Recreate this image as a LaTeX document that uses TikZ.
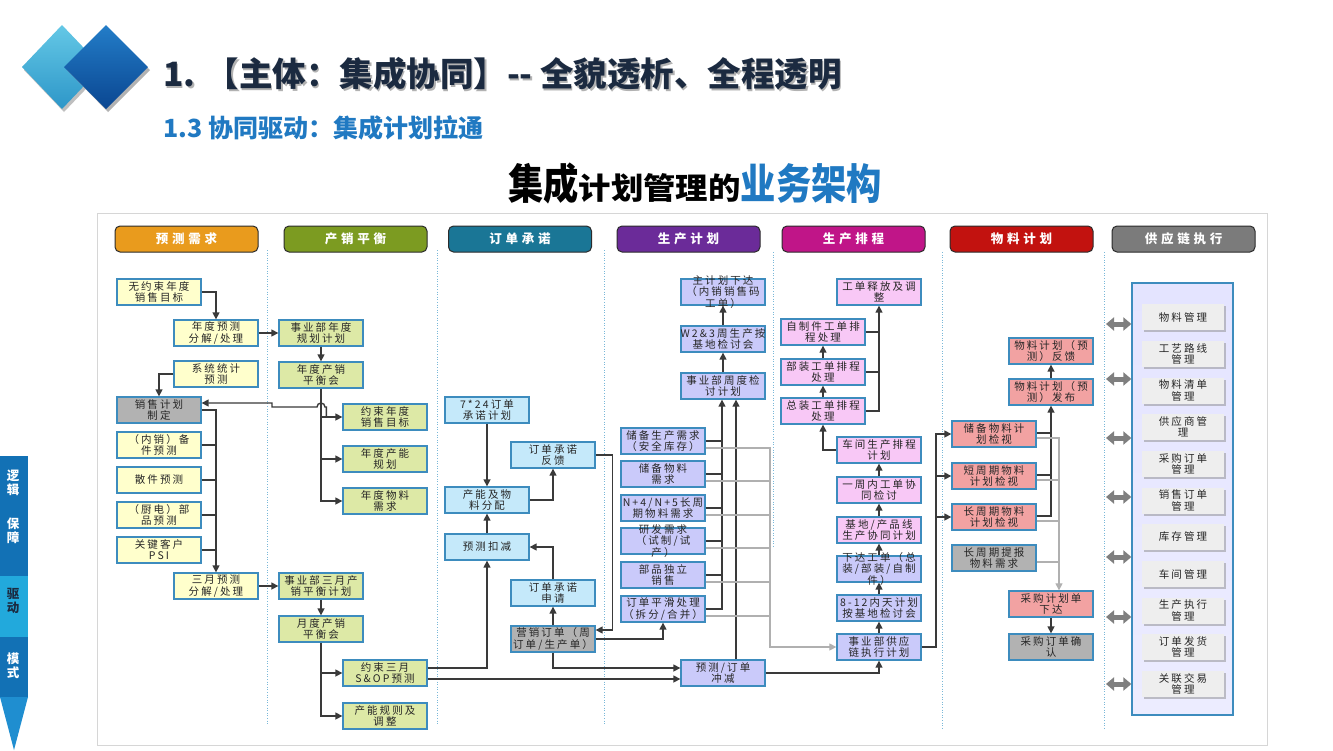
\documentclass[tikz,border=0pt]{standalone}
\usepackage{fontspec}
\newfontfamily\cjk{Noto Sans CJK SC}
\newfontfamily\cjkw[LetterSpace=20]{Noto Sans CJK SC}
\newfontfamily\cjkh[LetterSpace=30]{Noto Sans CJK SC}
\usetikzlibrary{arrows.meta,shadows}

\definecolor{boxedge}{HTML}{3D8CBE}
\definecolor{boxtext}{HTML}{262626}
\definecolor{fillY}{HTML}{FFFFCC}
\definecolor{fillG}{HTML}{DDE9A6}
\definecolor{fillB}{HTML}{C5E9FA}
\definecolor{fillL}{HTML}{CACAFA}
\definecolor{fillP}{HTML}{F8C8F6}
\definecolor{fillR}{HTML}{F2A2A2}
\definecolor{fillGr}{HTML}{B2B2B2}
\definecolor{linec}{HTML}{3A3A3A}
\definecolor{grayline}{HTML}{B0B0B0}
\definecolor{divc}{HTML}{7AB8D8}
\definecolor{framec}{HTML}{D6D6D6}
\definecolor{hdredge}{HTML}{2B2B2B}
\definecolor{hOr}{HTML}{E99B1D}
\definecolor{hGn}{HTML}{7C9B21}
\definecolor{hTl}{HTML}{1A7696}
\definecolor{hPu}{HTML}{6B2B99}
\definecolor{hMg}{HTML}{C01588}
\definecolor{hRd}{HTML}{C2120F}
\definecolor{hGy}{HTML}{7B7B7B}
\definecolor{titlec}{HTML}{1B2A40}
\definecolor{subc}{HTML}{2079C2}
\definecolor{sideD}{HTML}{1271B5}
\definecolor{sideL}{HTML}{22A9DC}
\definecolor{sideT}{HTML}{1F8ED0}
\definecolor{itemfill}{HTML}{EEEEEE}
\definecolor{dblc}{HTML}{7F7F7F}

\tikzset{
  boxshape/.style={rectangle, draw=boxedge, line width=1.3pt, minimum width=84pt, minimum height=26pt, inner sep=0pt},
  boxtxt/.style={align=center, font=\cjkw\fontsize{10.5}{11.2}\selectfont, text=boxtext, inner sep=0pt},
  hdr/.style={draw=hdredge, line width=1pt, rounded corners=5pt, minimum width=143pt, minimum height=26pt, text=white, font=\cjkh\bfseries\fontsize{12.5}{14}\selectfont, inner sep=0pt},
  ln/.style={draw=linec, line width=1.4pt},
  ar/.style={ln, -{Triangle[length=7pt,width=7pt]}},
  gln/.style={draw=grayline, line width=1.2pt},
  gar/.style={gln, -{Triangle[length=7pt,width=7pt]}},
  divider/.style={draw=divc, line width=0.9pt, dash pattern=on 1pt off 1.6pt},
  sideitem/.style={fill=itemfill, minimum width=82pt, minimum height=26pt, inner sep=0pt, align=center, font=\cjkw\fontsize{10.5}{11.2}\selectfont, text=boxtext, drop shadow={shadow xshift=2pt, shadow yshift=-2pt, fill=black!45, opacity=0.5}},
  dbl/.style={draw=dblc, line width=5pt, {Triangle[length=8pt,width=13pt]}-{Triangle[length=8pt,width=13pt]}},
  sidetxt/.style={align=center, font=\cjk\bfseries\fontsize{12.5}{14}\selectfont, inner sep=0pt},
}

% planning box: shape node plus its label
\newcommand\planbox[5]{%
  \node[boxshape, fill=#4] (#1) at (#2,#3) {};
  \node[boxtxt] (#1t) at (#1) {#5};}

\begin{document}
\begin{tikzpicture}[x=1pt,y=-1pt]
\useasboundingbox (0,0) rectangle (1333,750);
\fill[white] (0,0) rectangle (1333,750);

% ---- title block ----
\fill[black!25] (24,70) -- (64,28) -- (104,70) -- (64,112) -- cycle;
\shade[top color={rgb,255:red,100;green,200;blue,230}, bottom color={rgb,255:red,45;green,150;blue,200}] (22,67) -- (62,25) -- (102,67) -- (62,109) -- cycle;
\fill[black!30] (67,70) -- (108,28) -- (150,70) -- (108,112) -- cycle;
\shade[top color={rgb,255:red,35;green,125;blue,200}, bottom color={rgb,255:red,10;green,70;blue,145}] (64,67) -- (106,25) -- (148,67) -- (106,109) -- cycle;

\node[anchor=west, text=black!30, font=\cjk\bfseries\fontsize{33.5}{35}\selectfont, inner sep=0pt] (titsh) at (164.5,75.5) {1. 【主体：集成协同】-- 全貌透析、全程透明};
\node[anchor=west, text=titlec, font=\cjk\bfseries\fontsize{33.5}{35}\selectfont, inner sep=0pt] (tit) at (163,74) {1. 【主体：集成协同】-- 全貌透析、全程透明};
\node[anchor=west, text=subc, font=\cjk\bfseries\fontsize{25}{27}\selectfont, inner sep=0pt] (sub) at (163,128) {1.3 协同驱动：集成计划拉通};

\node[anchor=west, inner sep=0pt, font=\cjk\bfseries] (head) at (508,183) {%
  {\fontsize{42}{44}\selectfont\scalebox{0.84}[1]{集成}}%
  {\fontsize{30}{32}\selectfont\scalebox{1.08}[1]{计划管理的}}%
  {\color{subc}\fontsize{42}{44}\selectfont\scalebox{0.84}[1]{业务架构}}};

% ---- side strip ----
\fill[sideD] (0,456) rectangle (28,576);
\fill[sideL] (0,576) rectangle (28,637);
\fill[sideD] (0,637) rectangle (28,697);
\fill[sideT] (0,697) -- (28,697) -- (14,750) -- cycle;
\node[sidetxt, text=white] (sa) at (13,483) {逻\\辑};
\node[sidetxt, text=white] (sb) at (13,531) {保\\障};
\node[sidetxt, text=titlec] (sc) at (13,601) {驱\\动};
\node[sidetxt, text=white] (sd) at (13,666) {模\\式};

% ---- frame and lane dividers ----
\draw[framec, line width=1pt] (97,213) rectangle (1267,745);
\draw[divider] (267,250) -- (267,725);
\draw[divider] (437,250) -- (437,725);
\draw[divider] (604,250) -- (604,725);
\draw[divider] (773,252) -- (773,548);
\draw[divider] (942,252) -- (942,728);
\draw[divider] (1104,252) -- (1104,728);

% ---- lane headers ----
\node[hdr, fill=hOr] (h1) at (186.5,239) {预测需求};
\node[hdr, fill=hGn] (h2) at (355.5,239) {产销平衡};
\node[hdr, fill=hTl] (h3) at (520,239) {订单承诺};
\node[hdr, fill=hPu] (h4) at (688.5,239) {生产计划};
\node[hdr, fill=hMg] (h5) at (853.5,239) {生产排程};
\node[hdr, fill=hRd] (h6) at (1021.5,239) {物料计划};
\node[hdr, fill=hGy] (h7) at (1183.5,239) {供应链执行};

% ---- lane 1: demand forecast ----
\planbox{c1a}{159}{292}{fillY}{无约束年度\\销售目标}
\planbox{c1b}{216}{333}{fillY}{年度预测\\分解/处理}
\planbox{c1c}{216}{374}{fillY}{系统统计\\预测}
\planbox{c1d}{159}{410}{fillGr}{销售计划\\制定}
\planbox{c1e}{159}{445}{fillY}{（内销）备\\件预测}
\planbox{c1f}{159}{480}{fillY}{散件预测}
\planbox{c1g}{159}{515}{fillY}{（厨电）部\\品预测}
\planbox{c1h}{159}{550}{fillY}{关键客户\\PSI}
\planbox{c1i}{216}{586}{fillY}{三月预测\\分解/处理}

% ---- lane 2: S&OP balance ----
\planbox{c2a}{321}{333}{fillG}{事业部年度\\规划计划}
\planbox{c2b}{321}{375}{fillG}{年度产销\\平衡会}
\planbox{c2c}{385}{417}{fillG}{约束年度\\销售目标}
\planbox{c2d}{385}{459}{fillG}{年度产能\\规划}
\planbox{c2e}{385}{501}{fillG}{年度物料\\需求}
\planbox{c2f}{321}{586}{fillG}{事业部三月产\\销平衡计划}
\planbox{c2g}{321}{629}{fillG}{月度产销\\平衡会}
\planbox{c2h}{385}{673}{fillG}{约束三月\\S\&OP预测}
\planbox{c2i}{385}{716}{fillG}{产能规则及\\调整}

% ---- lane 3: order promising ----
\planbox{c3a}{487}{410}{fillB}{7*24订单\\承诺计划}
\planbox{c3b}{553}{455}{fillB}{订单承诺\\反馈}
\planbox{c3c}{487}{500}{fillB}{产能及物\\料分配}
\planbox{c3d}{487}{547}{fillB}{预测扣减}
\planbox{c3e}{553}{593}{fillB}{订单承诺\\申请}
\planbox{c3f}{553}{639}{fillGr}{营销订单（周\\订单/生产单）}

% ---- lane 4: production planning ----
\planbox{c4a}{723}{292}{fillL}{主计划下达\\（内销销售码\\工单）}
\planbox{c4b}{723}{339}{fillL}{W2\&3周生产按\\基地检讨会}
\planbox{c4c}{723}{386}{fillL}{事业部周度检\\讨计划}
\planbox{c4d}{663}{441}{fillL}{储备生产需求\\（安全库存）}
\planbox{c4e}{663}{474}{fillL}{储备物料\\需求}
\planbox{c4f}{663}{508}{fillL}{N+4/N+5长周\\期物料需求}
\planbox{c4g}{663}{541}{fillL}{研发需求\\（试制/试\\产）}
\planbox{c4h}{663}{575}{fillL}{部品独立\\销售}
\planbox{c4i}{663}{609}{fillL}{订单平滑处理\\（拆分/合并）}
\planbox{c4j}{723}{673}{fillL}{预测/订单\\冲减}

% ---- lane 5: scheduling ----
\planbox{c5a}{879}{292}{fillP}{工单释放及调\\整}
\planbox{c5b}{823}{332}{fillP}{自制件工单排\\程处理}
\planbox{c5c}{823}{372}{fillP}{部装工单排程\\处理}
\planbox{c5d}{823}{411}{fillP}{总装工单排程\\处理}
\planbox{c5e}{879}{450}{fillP}{车间生产排程\\计划}
\planbox{c5f}{879}{490}{fillP}{一周内工单协\\同检讨}
\planbox{c5g}{879}{530}{fillP}{基地/产品线\\生产协同计划}
\planbox{c5h}{879}{569}{fillL}{下达工单（总\\装/部装/自制\\件）}
\planbox{c5i}{879}{608}{fillL}{8-12内天计划\\按基地检讨会}
\planbox{c5j}{879}{647}{fillL}{事业部供应\\链执行计划}

% ---- lane 6: material planning ----
\planbox{c6a}{1051}{351}{fillR}{物料计划（预\\测）反馈}
\planbox{c6b}{1051}{392}{fillR}{物料计划（预\\测）发布}
\planbox{c6c}{994}{434}{fillR}{储备物料计\\划检视}
\planbox{c6d}{994}{476}{fillR}{短周期物料\\计划检视}
\planbox{c6e}{994}{517}{fillR}{长周期物料\\计划检视}
\planbox{c6f}{994}{558}{fillGr}{长周期提报\\物料需求}
\planbox{c6g}{1051}{604}{fillR}{采购计划单\\下达}
\planbox{c6h}{1051}{647}{fillGr}{采购订单确\\认}

% ---- lane 7: supply chain execution ----
\node[rectangle, draw=boxedge, line width=1.3pt, minimum width=101pt, minimum height=432pt,
      top color={rgb,255:red,228;green,228;blue,255}, middle color={rgb,255:red,145;green,145;blue,240},
      bottom color={rgb,255:red,236;green,236;blue,255}] (scm) at (1182.5,499) {};
\node[sideitem] (s1)  at (1183,317)   {物料管理};
\node[sideitem] (s2)  at (1183,354)   {工艺路线\\管理};
\node[sideitem] (s3)  at (1183,390.5) {物料清单\\管理};
\node[sideitem] (s4)  at (1183,427)   {供应商管\\理};
\node[sideitem] (s5)  at (1183,464)   {采购订单\\管理};
\node[sideitem] (s6)  at (1183,500.5) {销售订单\\管理};
\node[sideitem] (s7)  at (1183,537)   {库存管理};
\node[sideitem] (s8)  at (1183,574)   {车间管理};
\node[sideitem] (s9)  at (1183,610.5) {生产执行\\管理};
\node[sideitem] (s10) at (1183,647)   {订单发货\\管理};
\node[sideitem] (s11) at (1183,684)   {关联交易\\管理};

\foreach \yy [count=\k] in {324,379,438,497,557,617,684}{
  \coordinate (da\k) at (1106,\yy);
  \draw[dbl] (da\k) -- (da\k -| scm.west);
}

% ---- connectors, lane 1 ----
\draw[ar] (c1a.east) -| (c1b.north);
\draw[ar] (c1b.east) -- (c2a.west);
\draw[ar] (c1c.west) -| (c1d.north);
\draw[ar] (c1d.east) -| (c1i.north);
\foreach \n in {c1e,c1f,c1g,c1h}{\draw[ln] (\n.east) -- (\n.east -| c1i.north);}
\draw[ar] (c1i.east) -- (c2f.west);

% ---- connectors, lane 2 ----
\draw[ar] (c2a.south) -- (c2b.north);
\draw[ar] (c2b.south) |- (c2e.west);
\draw[ar] (c2b.south |- c2c.west) -- (c2c.west);
\draw[ar] (c2b.south |- c2d.west) -- (c2d.west);
\coordinate (fbk) at ([xshift=-16pt]c2c.west);
\draw[ar] (fbk) -- ++(0,-10) -- (325,407) arc[start angle=0, end angle=180, radius=4pt]
          -- (272,407) -- (272,403) -- ([yshift=7pt]c1d.east);
\draw[ar] (c2f.south) -- (c2g.north);
\draw[ar] (c2g.south) |- (c2i.west);
\draw[ar] (c2g.south |- c2h.west) -- (c2h.west);
\draw[ar] ([yshift=5pt]c2h.east) -| (c3d.south);
\draw[ar] ([yshift=-6pt]c2h.east) -- ([yshift=-6pt]c4j.west);

% ---- connectors, lane 3 ----
\draw[ar] (c3a.south) -- (c3c.north);
\draw[ar] (c3c.east) -| (c3b.south);
\draw[ar] (c3d.north) -- (c3c.south);
\draw[ar] (c3e.north) |- (c3d.east);
\draw[ar] (c3f.north) -- (c3e.south);
\draw[ar] (c3b.east) -- ++(17,0) |- ([yshift=9pt]c3f.east);
\draw[ar] (c3f.east) -| (c4i.south);
\draw[ar] (c3f.south) |- ([yshift=5pt]c4j.west);

% ---- connectors, lane 4 ----
\coordinate (bus4) at ([xshift=-1pt]c4c.south);
\draw[ar] (c4i.east) -| (bus4);
\foreach \n in {c4d,c4e,c4f,c4g,c4h}{\draw[ln] (\n.east) -- (\n.east -| bus4);}
\draw[ar] ([xshift=13pt]c4j.north) -- ([xshift=13pt]c4c.south);
\draw[ar] (c4c.north) -- (c4b.south);
\draw[ar] (c4b.north) -- (c4a.south);
\coordinate (gx4) at (770,0);
\draw[gar] ([yshift=-7pt]c4d.east) -| (gx4 |- c5j.west) -- (c5j.west);
\foreach \n in {c4e,c4f,c4g,c4h,c4i}{\draw[gln] ([yshift=-7pt]\n.east) -- +(65,0);}
\draw[ar] (c4j.east) -| (c5j.south);

% ---- connectors, lane 5 ----
\draw[ar] (c5j.north) -- (c5i.south);
\draw[ar] (c5i.north) -- (c5h.south);
\draw[ar] (c5h.north) -- (c5g.south);
\draw[ar] (c5g.north) -- (c5f.south);
\draw[ar] (c5f.north) -- (c5e.south);
\draw[ar] (c5e.west) -| (c5d.south);
\draw[ar] (c5d.north) -- (c5c.south);
\draw[ar] (c5c.north) -- (c5b.south);
\draw[ar] (c5d.east) -| (c5a.south);
\foreach \n in {c5b,c5c}{\draw[ln] (\n.east) -- (\n.east -| c5a.south);}
\coordinate (bx5) at (936,0);
\draw[ar] (c5j.east) -| (bx5 |- c6c.west) -- (c6c.west);
\draw[ar] (bx5 |- c6d.west) -- (c6d.west);
\draw[ar] (bx5 |- c6e.west) -- (c6e.west);

% ---- connectors, lane 6 ----
\draw[ar] (c6b.north) -- (c6a.south);
\draw[ar] ([yshift=1pt]c6e.east) -| (c6b.south);
\foreach \n in {c6c,c6d}{\draw[ln] ([yshift=1pt]\n.east) -- ([yshift=1pt]\n.east -| c6b.south);}
\coordinate (gx6) at (1059,0);
\draw[gar] ([yshift=-4pt]c6c.east) -| (gx6 |- c6g.north);
\foreach \n in {c6d,c6e,c6f}{\draw[gln] ([yshift=-4pt]\n.east) -- +(23,0);}
\draw[ar] (c6g.south) -- (c6h.north);

\end{tikzpicture}
\end{document}
